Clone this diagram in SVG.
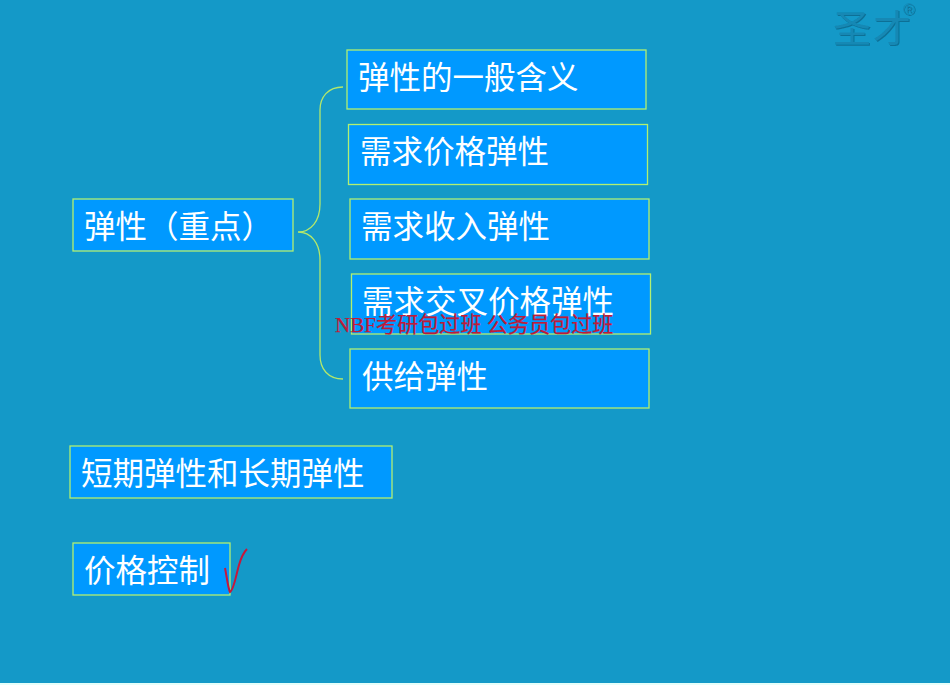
<svg xmlns="http://www.w3.org/2000/svg" width="950" height="685" viewBox="0 0 950 685">
<defs><filter id="emb" x="-10%" y="-10%" width="120%" height="120%"><feDropShadow dx="1" dy="1" stdDeviation="0.6" flood-color="#0a6f96"/></filter></defs>
<style>
.box{fill:#0099ff;stroke:#b2f070;stroke-width:1.3}
.t{font-family:"Noto Sans CJK SC","Noto Sans",sans-serif;font-size:31.5px;fill:#fff}
.brace{fill:none;stroke:#b4e86a;stroke-width:1.3}
.mark{font-family:"Liberation Serif","Noto Sans CJK SC",serif;font-size:21.1px;fill:#c01a38;stroke:#c01a38;stroke-width:.25}
.logo{font-family:"Noto Sans CJK SC",sans-serif;fill:#1388b4}
</style>
<rect width="950" height="685" fill="#1499c8"/>
<rect y="683" width="950" height="2" fill="#e6fffa"/>
<g id="logo" filter="url(#emb)"><text class="logo" x="833" y="42" font-size="38" letter-spacing="2">圣才</text><text x="903" y="15" font-size="16" fill="#1388b4" font-family="Liberation Sans, sans-serif">®</text></g>
<g id="connectors"><path class="brace" d="M343 87C328 87 320 97 320 110V204C320 221 311 232 298 232C311 232 320 243 320 260V355C320 369 328 379 343 379"/></g>
<g id="n1"><rect class="box" x="347" y="50" width="299" height="59"/><text class="t" x="358" y="89">弹性的一般含义</text></g>
<g id="n2"><rect class="box" x="348.500" y="124.500" width="299" height="60"/><text class="t" x="360" y="163">需求价格弹性</text></g>
<g id="n3"><rect class="box" x="350" y="199" width="299" height="60"/><text class="t" x="361" y="238">需求收入弹性</text></g>
<g id="n4"><rect class="box" x="351.500" y="274" width="299" height="60"/><text class="t" x="362" y="313">需求交叉价格弹性</text></g>
<g id="n5"><rect class="box" x="350" y="349" width="299" height="59"/><text class="t" x="362" y="388">供给弹性</text></g>
<g id="root"><rect class="box" x="73" y="199" width="220" height="52"/><text class="t" x="84" y="238">弹性（重点）</text></g>
<g id="n6"><rect class="box" x="70" y="446" width="322" height="52"/><text class="t" x="81" y="485">短期弹性和长期弹性</text></g>
<g id="n7"><rect class="box" x="73" y="543" width="157" height="52"/><text class="t" x="84" y="582">价格控制</text></g>
<text class="mark" x="335" y="332">NBF考研包过班 公务员包过班</text>
<path d="M225 568C227 578 228 588 230 592C234 590 236 575 239 565C241 558 244 552 247 549" fill="none" stroke="#c8173a" stroke-width="2"/>
</svg>
